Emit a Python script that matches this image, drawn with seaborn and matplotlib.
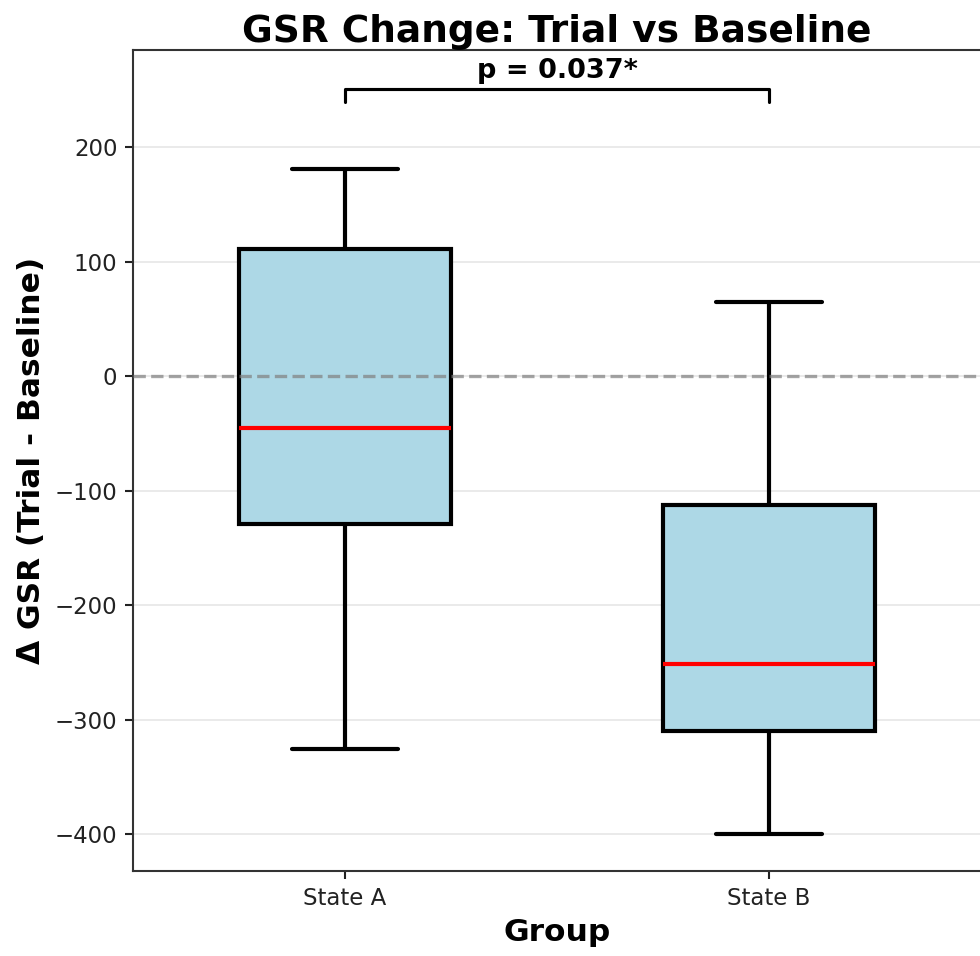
import matplotlib
matplotlib.use("Agg")
import matplotlib.pyplot as plt
import seaborn as sns
import pandas as pd

# summary values: lower whisker, Q1, median, Q3, upper whisker
groups = ["State A", "State B"]
state_a = [-325.5, -129.0, -45.5, 111.0, 181.5]
state_b = [-399.5, -310.0, -251.5, -112.5, 64.5]
p_label = "p = 0.037*"

df = pd.DataFrame({
    "Group": [groups[0]] * len(state_a) + [groups[1]] * len(state_b),
    "dGSR": state_a + state_b,
})

sns.set_style("ticks")
plt.rcParams['font.family'] = ['DejaVu Sans']
plt.rcParams['text.color'] = 'black'
plt.rcParams['axes.labelcolor'] = 'black'
plt.rcParams['xtick.color'] = '#222222'
plt.rcParams['ytick.color'] = '#222222'

fig = plt.figure(figsize=(980 / 150, 956 / 150), dpi=150)
ax = fig.add_axes([133 / 980, 85 / 956, 848 / 980, 821 / 956])

sns.boxplot(
    data=df, x="Group", y="dGSR", order=groups, width=0.5, ax=ax,
    color="lightblue", linewidth=2, whis=1.5, showfliers=False,
    boxprops=dict(facecolor="lightblue", edgecolor="black", linewidth=2),
    medianprops=dict(color="red", linewidth=2),
    whiskerprops=dict(color="black", linewidth=2),
    capprops=dict(color="black", linewidth=2),
)

# zero reference line, drawn over the boxes like in the original
ax.axhline(0, color="gray", linestyle="--", linewidth=1.6, alpha=0.7, zorder=3)
ax.yaxis.grid(True, color="#e6e6e6", linewidth=0.8)
ax.set_axisbelow(True)

ax.set_ylim(-432, 285)
ax.set_xlim(-0.5, 1.5)

# significance bracket
y_br, h = 251, 11
ax.plot([0, 0, 1, 1], [y_br - h, y_br, y_br, y_br - h], color="black", linewidth=1.5)
ax.text(0.5, y_br + 4, p_label, ha="center", va="bottom", fontsize=13, fontweight="bold")

ax.set_title("GSR Change: Trial vs Baseline", fontsize=18, fontweight="bold", pad=4,
             color="black")
ax.set_xlabel("Group", fontsize=15, fontweight="bold")
ax.set_ylabel("Δ GSR (Trial - Baseline)", fontsize=15, fontweight="bold")
ax.tick_params(labelsize=11, width=1, length=4)

for s in ax.spines.values():
    s.set_color("#333333")
    s.set_linewidth(1.0)

fig.savefig("out.png", dpi=150)
